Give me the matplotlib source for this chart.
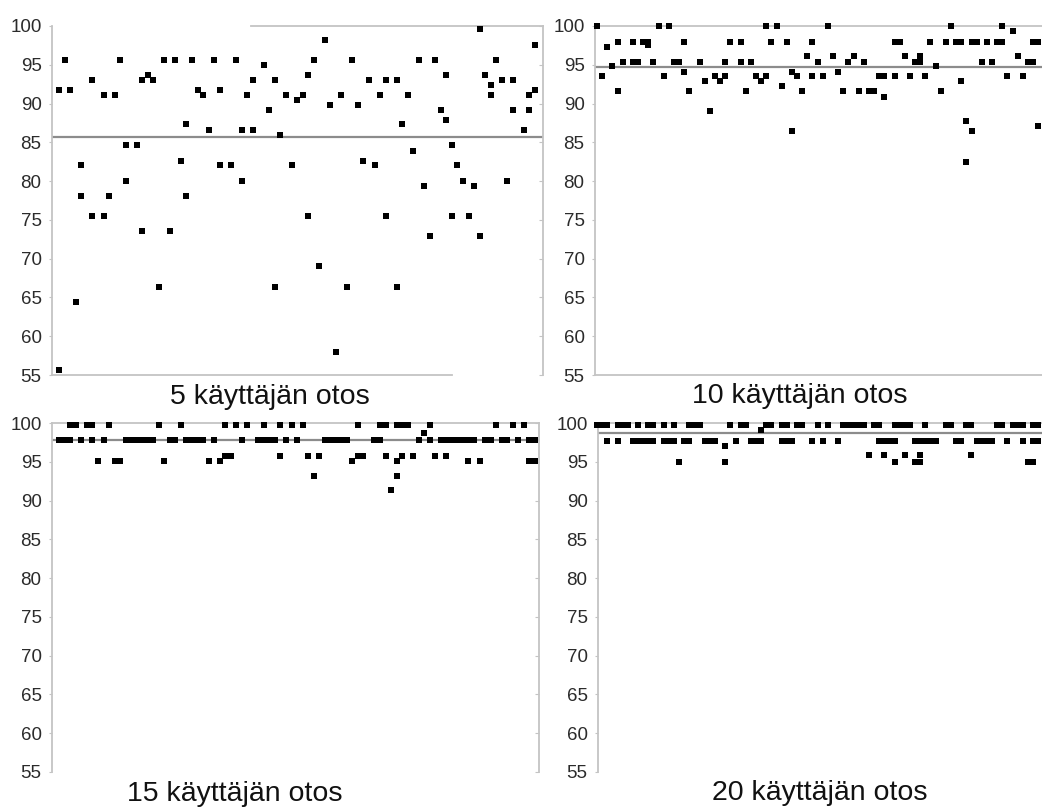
import matplotlib
matplotlib.use('Agg')
import matplotlib.pyplot as plt

plt.rcParams['font.family'] = ['Liberation Sans', 'DejaVu Sans']

# sample number / score pairs
x5 = [1, 1, 2, 3, 4, 5, 5, 7, 7, 9, 9, 10, 11, 12, 13, 13, 15, 16, 16, 17, 18, 19, 20, 21, 22, 23,
      24, 24, 25, 26, 27, 28, 29, 30, 30, 32, 33, 34, 34, 35, 36, 36, 38, 39, 40, 40, 41, 42, 43, 44,
      45, 46, 46, 47, 48, 49, 50, 51, 52, 53, 54, 55, 56, 57, 58, 59, 60, 60, 62, 62, 63, 64, 65, 66,
      67, 68, 69, 70, 71, 71, 72, 72, 73, 74, 75, 76, 77, 77, 78, 79, 79, 80, 81, 82, 83, 83, 85, 86,
      86, 87, 87]
y5 = [91.75, 55.6, 95.6, 91.75, 64.4, 82.05, 78.1, 93.0, 75.5, 91.1, 75.5, 78.1, 91.1, 95.6, 84.6,
      80.0, 84.6, 93.0, 73.6, 93.7, 93.0, 66.4, 95.6, 73.6, 95.6, 82.65, 87.3, 78.1, 95.6, 91.75,
      91.1, 86.6, 95.6, 91.75, 82.05, 82.05, 95.6, 86.6, 80.0, 91.1, 86.6, 93.0, 95.0, 89.2, 93.0,
      66.4, 85.9, 91.1, 82.05, 90.4, 91.1, 75.5, 93.7, 95.6, 69.0, 98.25, 89.8, 57.95, 91.1, 66.4,
      95.6, 89.8, 82.65, 93.0, 82.05, 91.1, 93.0, 75.5, 93.0, 66.4, 87.3, 91.1, 83.9, 95.6, 79.4,
      72.9, 95.6, 89.2, 93.7, 87.9, 84.6, 75.5, 82.05, 80.0, 75.5, 79.4, 99.6, 72.9, 93.7, 92.4,
      91.1, 95.6, 93.0, 80.0, 93.0, 89.2, 86.6, 91.1, 89.2, 97.6, 91.75]

x10 = [1, 2, 3, 4, 5, 5, 6, 8, 8, 9, 10, 11, 11, 12, 13, 14, 15, 16, 17, 18, 18, 19, 21, 22, 23,
       24, 25, 26, 26, 27, 29, 29, 30, 31, 32, 33, 34, 34, 35, 36, 37, 38, 39, 39, 40, 41, 42, 43,
       43, 44, 45, 46, 47, 48, 49, 50, 51, 52, 53, 54, 55, 56, 57, 57, 59, 59, 60, 61, 62, 63, 64,
       64, 65, 66, 67, 68, 69, 70, 71, 72, 72, 73, 73, 74, 74, 75, 76, 77, 78, 79, 80, 80, 81, 82,
       83, 84, 85, 86, 86, 87, 87]
y10 = [100, 93.5, 97.35, 94.8, 98.0, 91.6, 95.4, 98.0, 95.4, 95.4, 98.0, 98.0, 97.5, 95.4, 100,
       93.5, 100, 95.4, 95.4, 98.0, 94.1, 91.6, 95.4, 92.9, 89.0, 93.5, 92.9, 93.5, 95.4, 98.0,
       98.0, 95.4, 91.6, 95.4, 93.5, 92.9, 100, 93.5, 98.0, 100, 92.2, 98.0, 94.1, 86.4, 93.5,
       91.6, 96.1, 98.0, 93.5, 95.4, 93.5, 100, 96.1, 94.1, 91.6, 95.4, 96.1, 91.6, 95.4, 91.6,
       91.6, 93.5, 93.5, 90.9, 98.0, 93.5, 98.0, 96.1, 93.5, 95.4, 95.4, 96.1, 93.5, 98.0, 94.8,
       91.6, 98.0, 100, 98.0, 98.0, 92.9, 87.7, 82.5, 86.4, 98.0, 98.0, 95.4, 98.0, 95.4, 98.0,
       98.0, 100, 93.5, 99.4, 96.1, 93.5, 95.4, 95.4, 98.0, 98.0, 87.1]

# 15 users: scores come in a few levels
s15_top = [3, 4, 6, 7, 10, 19, 23, 31, 33, 35, 38, 41, 43, 45, 55, 59, 60, 62, 63, 64, 68, 80, 83, 85]
s15_mid = [1, 2, 3, 5, 7, 9, 13, 14, 15, 16, 17, 18, 21, 22, 24, 25, 26, 27, 29, 34, 37, 38, 39, 40,
           42, 44, 49, 50, 51, 52, 53, 58, 59, 66, 68, 70, 71, 72, 73, 74, 75, 76, 78, 79, 81, 82, 84,
           86, 87]
s15_958 = [31, 32, 41, 46, 48, 55, 56, 60, 63, 65, 69, 71]
s15_951 = [8, 11, 12, 20, 28, 30, 54, 62, 75, 77, 86, 87]
s15_932 = [47, 62]
s15_914 = [61]
s15_987 = [67]
x15 = s15_top + s15_mid + s15_958 + s15_951 + s15_932 + s15_914 + s15_987
y15 = ([99.8] * len(s15_top) + [97.75] * len(s15_mid) + [95.8] * len(s15_958)
       + [95.1] * len(s15_951) + [93.2] * len(s15_932) + [91.4] * len(s15_914) + [98.7] * len(s15_987))

s20_top = [1, 2, 3, 5, 6, 7, 9, 11, 12, 14, 16, 19, 20, 21, 27, 29, 30, 34, 35, 37, 38, 40, 41, 44,
           46, 49, 50, 51, 52, 53, 55, 56, 59, 60, 61, 62, 65, 69, 70, 73, 74, 79, 80, 82, 83, 84,
           86, 87]
s20_mid = [3, 5, 8, 9, 10, 11, 12, 14, 15, 16, 18, 19, 22, 23, 24, 28, 31, 32, 33, 37, 38, 39, 43,
           45, 48, 56, 57, 58, 59, 63, 64, 65, 66, 67, 71, 72, 75, 76, 77, 78, 81, 84, 86, 87]
s20_991 = [33]
s20_970 = [26]
s20_959 = [54, 57, 61, 64, 74]
s20_950 = [17, 26, 59, 63, 64, 85, 86]
x20 = s20_top + s20_mid + s20_991 + s20_970 + s20_959 + s20_950
y20 = ([99.8] * len(s20_top) + [97.7] * len(s20_mid) + [99.1] * len(s20_991) + [97.05] * len(s20_970)
       + [95.9] * len(s20_959) + [95.0] * len(s20_950))

means = [85.7, 94.75, 97.75, 98.75]
titles = ['5 käyttäjän otos', '10 käyttäjän otos', '15 käyttäjän otos', '20 käyttäjän otos']

W, H = 1042, 808
fig = plt.figure(figsize=(W / 100, H / 100), dpi=100)
fig.patch.set_facecolor('white')


def px_axes(left, right, top, bottom):
    return fig.add_axes([left / W, 1 - bottom / H, (right - left) / W, (bottom - top) / H])


spine_c = '#c4c4c4'

# panels: pixel box, x limits
ax1 = px_axes(52, 543, 26, 375)
ax2 = px_axes(595, 1050, 26, 375)
ax3 = px_axes(52, 539, 423, 772)
ax4 = px_axes(598, 1051, 423, 772)
axes = [ax1, ax2, ax3, ax4]
xlims = [(-0.32, 88.47), (0.61, 89.3), (-0.32, 87.75), (1.19, 89.5)]
data = [(x5, y5), (x10, y10), (x15, y15), (x20, y20)]

for ax, (xs, ys), m, xl in zip(axes, data, means, xlims):
    ax.set_xlim(xl)
    ax.set_ylim(55, 100)
    ax.axhline(m, color='#8c8c8c', lw=1.6, zorder=2)
    ax.plot(xs, ys, 's', color='black', ms=3.7, mew=0, zorder=4, clip_on=False)
    ax.set_xticks([])
    ax.set_yticks(range(55, 101, 5))
    ax.tick_params(axis='y', direction='out', length=2.5, width=0.8, color=spine_c,
                   labelsize=13.5, labelcolor='#2b2b2b', pad=5)
    for sp in ax.spines.values():
        sp.set_color(spine_c)
        sp.set_linewidth(1.3)
    ax.set_facecolor('none')

# the odd partial frames of the original
ax1.spines['bottom'].set_bounds(-0.32, 72.0)
ax1.spines['top'].set_bounds(35.7, 88.47)
ax1.yaxis.set_tick_params(which='major', right=True)
ax3.yaxis.set_tick_params(which='major', right=True)
ax2.spines['right'].set_visible(False)
ax3.spines['bottom'].set_visible(False)
ax4.spines['bottom'].set_visible(False)
ax4.spines['right'].set_visible(False)
for ax in (ax1, ax3):
    for t in ax.yaxis.get_major_ticks():
        t.tick2line.set_marker(0)  # tick pointing left, inside the frame
        t.tick2line.set_markersize(3)
        t.tick2line.set_color(spine_c)

# titles below each panel
title_pos = [(270, 397), (800, 396), (235, 794), (820, 793)]
for t, (tx, ty) in zip(titles, title_pos):
    fig.text(tx / W, 1 - ty / H, t, ha='center', va='center', fontsize=20.5, color='#111111')

fig.savefig('out.png', dpi=100)
